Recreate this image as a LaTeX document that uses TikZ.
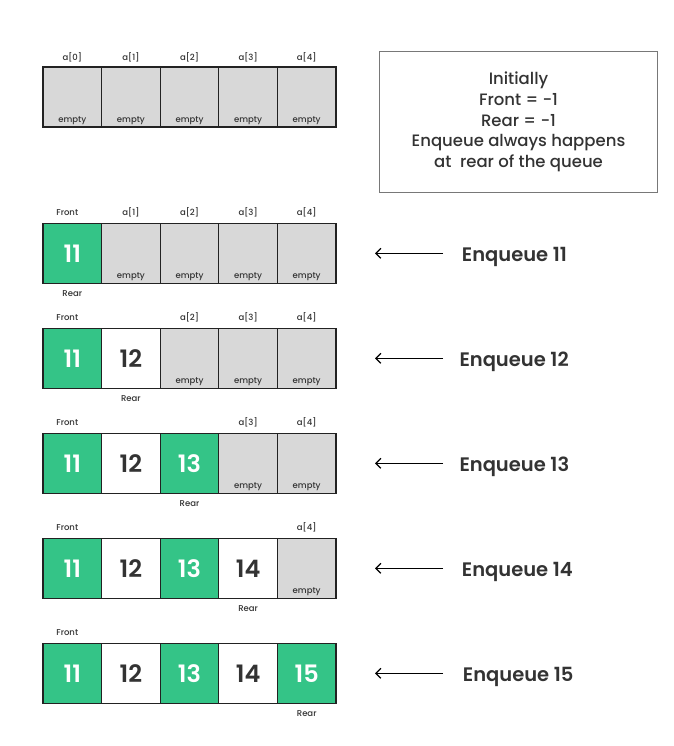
\documentclass[tikz,border=0pt]{standalone}
\usepackage{fontspec}
\setmainfont{Poppins Medium}
\newfontfamily\numfont{Poppins SemiBold}
\usetikzlibrary{arrows.meta}
\definecolor{qgreen}{RGB}{52,196,135}
\definecolor{qgray}{RGB}{216,216,216}
\definecolor{qtext}{RGB}{51,51,51}
\definecolor{qline}{RGB}{34,34,34}
\definecolor{qbox}{RGB}{120,120,120}
\begin{document}
\begin{tikzpicture}[x=1pt,y=-1pt,
  cell/.style={draw=qline,line width=1.3pt,minimum width=58.6pt,minimum height=60pt,inner sep=0pt,outer sep=0pt,anchor=north west},
  lab/.style={inner sep=0pt,text=qtext,font=\fontsize{8.5}{10}\selectfont},
  emptylab/.style={inner sep=0pt,text=qtext,anchor=base,font=\fontsize{8.5}{10}\selectfont},
  numg/.style={text=white,font=\fontsize{24}{28}\selectfont\numfont},
  numw/.style={text=qtext,font=\fontsize{24}{28}\selectfont\numfont},
  enq/.style={inner sep=0pt,anchor=base west,text=qtext,font=\fontsize{19.5}{23}\selectfont\numfont},
  arr/.style={line width=1.2pt,-{Straight Barb[length=5pt,width=10pt]}},
  infobox/.style={draw=qbox,line width=1.2pt,minimum width=278.4pt,minimum height=140.6pt,inner sep=0pt,align=center,text=qtext,font=\fontsize{16.5}{20.6}\selectfont}
]
\useasboundingbox (0,0) rectangle (673,746);
\fill[white] (0,0) rectangle (673,746);
% initial row
\foreach \i in {0,...,4}{
  \pgfmathsetmacro\xl{43+58.6*\i}
  \node[cell,fill=qgray] (c0\i) at (\xl,67) {};
  \node[emptylab] (e0\i) at ([yshift=4.4pt]c0\i.south) {empty};
  \node[lab] (l0\i) at ([yshift=10pt]c0\i.north) {a[\i]};
}
\node[infobox] (info) at (518.5,122) {Initially\\Front = -1\\Rear = -1\\Enqueue always happens\\at\ \ rear of the queue};
% enqueue rows
\foreach \r/\tx in {1/461.7,2/459.3,3/459.3,4/461.7,5/462.7}{
  \pgfmathsetmacro\top{223.3+105*(\r-1)}
  \pgfmathsetmacro\mid{\top+30}
  \pgfmathtruncatemacro\last{\r-1}
  \pgfmathtruncatemacro\nv{10+\r}
  \foreach \i in {0,...,4}{
    \pgfmathsetmacro\xl{43+58.6*\i}
    \pgfmathtruncatemacro\v{11+\i}
    \ifnum\i<\r
      \ifodd\i
        \node[cell,fill=white,numw] (c\r\i) at (\xl,\top) {\v};
      \else
        \node[cell,fill=qgreen,numg] (c\r\i) at (\xl,\top) {\v};
      \fi
    \else
      \node[cell,fill=qgray] (c\r\i) at (\xl,\top) {};
      \node[emptylab] (e\r\i) at ([yshift=4.4pt]c\r\i.south) {empty};
      \node[lab] (l\r\i) at ([yshift=11pt]c\r\i.north) {a[\i]};
    \fi
  }
  \node[lab] (f\r) at ([xshift=-5pt,yshift=11pt]c\r0.north) {Front};
  \node[lab] (rr\r) at ([yshift=-10.5pt]c\r\last.south) {Rear};
  \node[enq] (t\r) at (\tx,\mid+7.7) {Enqueue \nv};
  \coordinate (as\r) at (443,\mid);
  \coordinate (ae\r) at (375,\mid);
  \draw[arr] (as\r) -- (ae\r);
}
\end{tikzpicture}
\end{document}
